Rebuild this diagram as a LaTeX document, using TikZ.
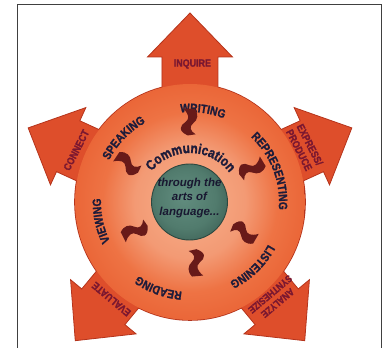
\documentclass[tikz,border=0pt]{standalone}
\usepackage{fontspec}
\setmainfont{Liberation Sans}
\newfontfamily\heavysans{Liberation Sans}[UprightFont=* Bold, FakeStretch=0.85, FakeBold=1.4]
\usepackage{tikz}
\usetikzlibrary{decorations.text}

\definecolor{ringrim}{HTML}{E2512A}
\definecolor{ringdeep}{HTML}{E96234}
\definecolor{ringmid}{HTML}{EE7344}
\definecolor{ringlight}{HTML}{F39A74}
\definecolor{ringcore}{HTML}{F6B08C}
\definecolor{arrowfill}{HTML}{DE4E2B}
\definecolor{edgered}{HTML}{B5341C}
\definecolor{pooldark}{HTML}{385A50}
\definecolor{poolmid}{HTML}{517B6D}
\definecolor{poollight}{HTML}{628D7F}
\definecolor{navytext}{HTML}{1E1C3A}
\definecolor{wine}{HTML}{7A1730}
\definecolor{curlred}{HTML}{681A19}
\definecolor{framegray}{HTML}{404040}

\pgfdeclareradialshading{ringglow}{\pgfpoint{0bp}{0bp}}%
  {color(0bp)=(ringcore); color(12bp)=(ringlight); color(19bp)=(ringmid);
   color(27bp)=(ringdeep); color(35bp)=(ringrim); color(50bp)=(ringrim)}
\pgfdeclareradialshading{poolglow}{\pgfpoint{-4bp}{4bp}}%
  {color(0bp)=(poollight); color(20bp)=(poolmid); color(35bp)=(pooldark); color(50bp)=(pooldark)}

\newcommand{\ringtype}{\heavysans\fontsize{12}{14}\selectfont}
\newcommand{\spoketype}{\heavysans\fontsize{10.5}{12}\selectfont}
\newcommand{\commtype}{\heavysans\fontsize{14}{16}\selectfont}

\begin{document}
\begin{tikzpicture}[x=1pt, y=1pt,
  spokelabel/.style={text=wine, font=\spoketype, inner sep=0pt, align=center},
  ringlabel/.style={decorate, decoration={text along path, text={|\ringtype|#1},
      text align=center, text color=navytext}},
  spoke/.pic={
    \filldraw[fill=arrowfill, draw=edgered, line width=0.8]
      (80,-28) -- ({#1-44},-28) -- ({#1-44},-42.5) -- (#1,0)
      -- ({#1-44},42.5) -- ({#1-44},28) -- (80,28) -- cycle;
  },
  curl/.pic={
    \fill[curlred, scale=1.12] (-12,2) .. controls (-8,11) and (-3,9) .. (0,4)
      .. controls (3,0) and (7,1) .. (12,6) -- (12,-4)
      .. controls (7,-8) and (2,-7) .. (-1,-3)
      .. controls (-4,1) and (-8,0) .. (-11,-5) -- cycle;
  }]
  \useasboundingbox (-190,-146) rectangle (196,202);

  % frame
  \draw[framegray, line width=0.8] (-173,-146) -- (-173,197.5) -- (191,197.5) -- (191,-146);

  % ---- rim line of the disc, then the five arrows ----
  \draw[edgered, line width=1.6] (0,0) ellipse [x radius=115, y radius=118];
  \pic[rotate=90] at (0,0) {spoke=189};
  \pic[rotate=24.6] at (0,0) {spoke=178};
  \pic[rotate=-50.4] at (0,0) {spoke=180};
  \pic[rotate=-129.6] at (0,0) {spoke=180};
  \pic[rotate=155.4] at (0,0) {spoke=178};

  % ---- disc ----
  \shade[shading=ringglow] (0,0) ellipse [x radius=115, y radius=118];

  % ---- arrow labels ----
  \node[spokelabel] (inquire) at (89:138) {INQUIRE};
  \node[spokelabel, rotate=-63] (express) at (25.5:127) {EXPRESS/\\PRODUCE};
  \node[spokelabel, rotate=-140, font=\heavysans\fontsize{10}{11.5}\selectfont]
    (analyze) at (-49:128) {ANALYZE\\SYNTHESIZE};
  \node[spokelabel, rotate=140] (evaluate) at (-129:125) {EVALUATE};
  \node[spokelabel, rotate=63] (connect) at (155.5:125) {CONNECT};

  % ---- ring labels ----
  \path[ringlabel=WRITING] (142:90) arc[start angle=142, end angle=22, radius=90];
  \path[ringlabel=REPRESENTING] (81:89) arc[start angle=81, end angle=-39, radius=89];
  \path[ringlabel=LISTENING] (14:89) arc[start angle=14, end angle=-106, radius=89];
  \path[ringlabel=READING] (-50:90) arc[start angle=-50, end angle=-170, radius=90];
  \path[ringlabel=VIEWING] (252:89) arc[start angle=252, end angle=132, radius=89];
  \path[ringlabel=SPEAKING] (196:91) arc[start angle=196, end angle=76, radius=91];

  % ---- curls ----
  \pic[rotate=90] at (90:80) {curl};
  \pic[rotate=31] at (28:70) {curl};
  \pic[rotate=-30] at (-30:62) {curl};
  \pic[rotate=-85] at (-85:61) {curl};
  \pic[rotate=-153] at (-153:62) {curl};
  \pic[rotate=146] at (148:73) {curl};

  % ---- centre ----
  \path[decorate, decoration={text along path, text={|\commtype|Communication},
      text align=center, text color=navytext}]
    (149:49) arc[start angle=149, end angle=29, radius=49];
  \shade[shading=poolglow, draw=pooldark!80!black, line width=0.9] (-0.5,0) circle (38);
  \node[text=navytext!85!black, align=center,
    font=\bfseries\itshape\fontsize{11.5}{14.5}\selectfont] (arts) at (-0.5,4)
    {through the\\arts of\\language...};
\end{tikzpicture}
\end{document}
